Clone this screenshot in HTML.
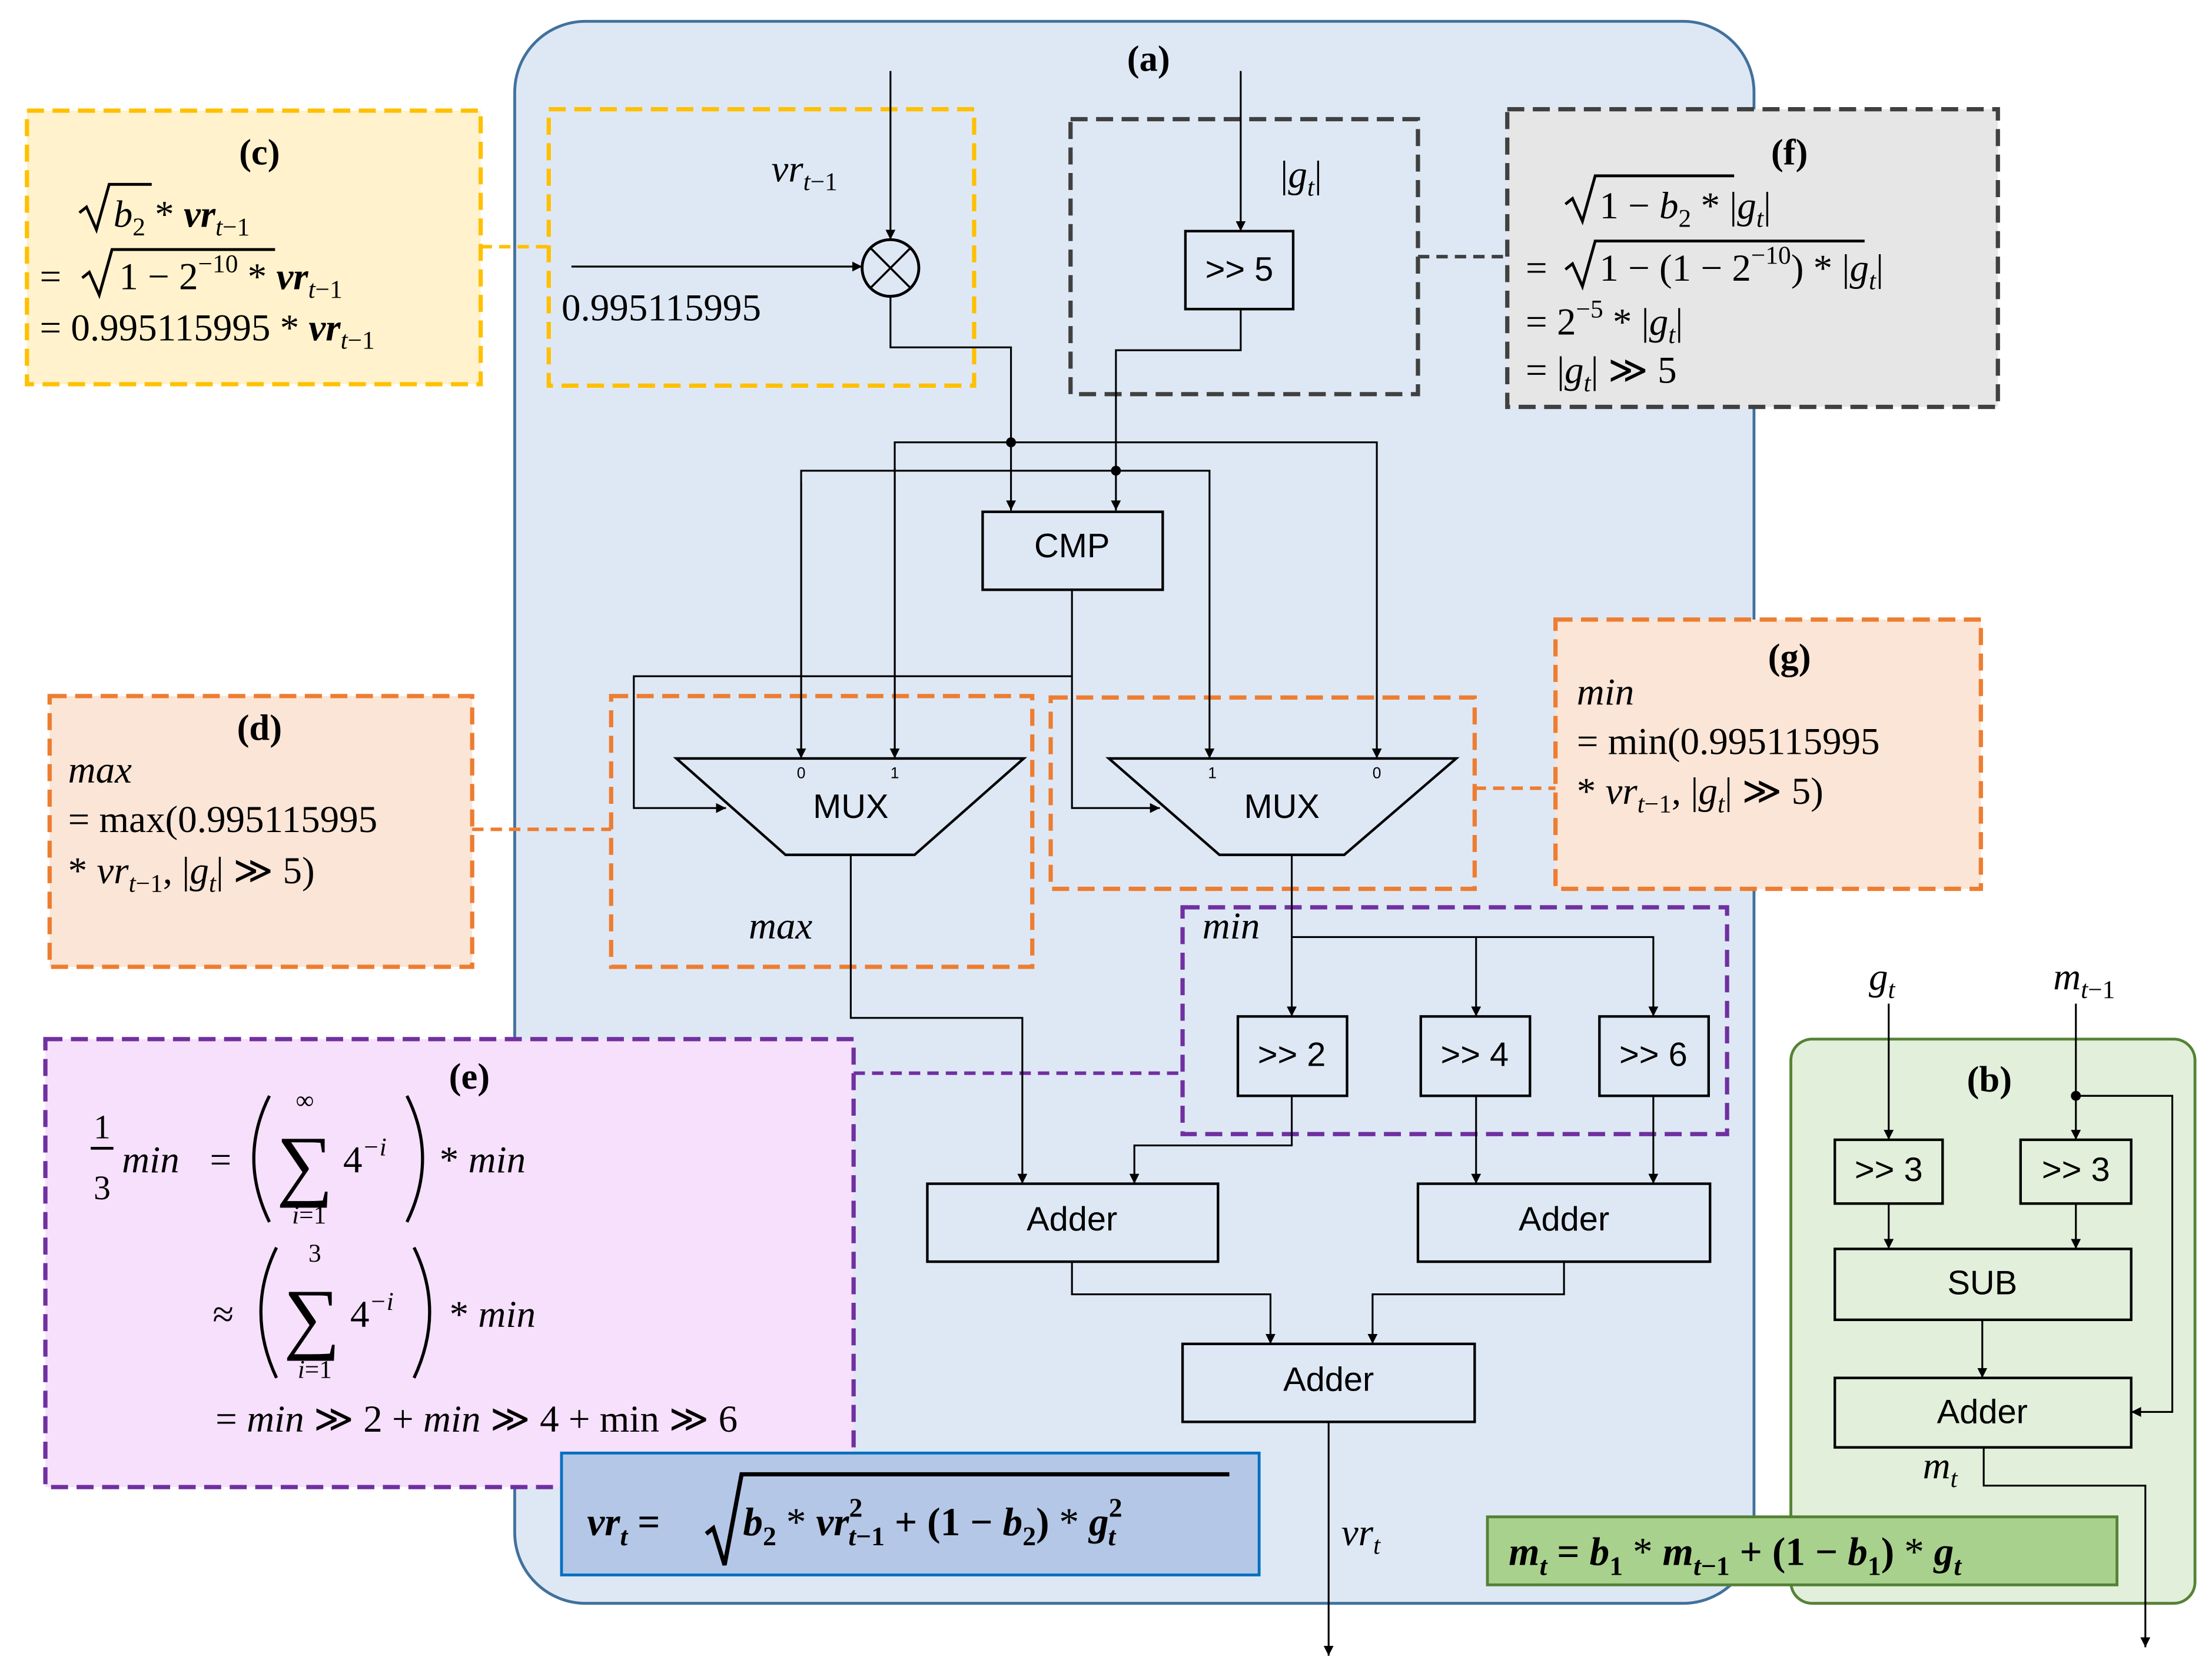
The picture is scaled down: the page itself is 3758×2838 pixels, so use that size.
<!DOCTYPE html>
<html><head><meta charset="utf-8"><style>
html,body{margin:0;padding:0;background:#fff}
svg{display:block;font-size:27px}
.s{font-family:"Liberation Sans",sans-serif}
.m{font-family:"Liberation Serif",serif}
.i{font-style:italic}
.b{font-weight:bold}
</style></head><body>
<svg width="3758" height="2838" viewBox="0 0 1560 1178" xmlns="http://www.w3.org/2000/svg">
<defs>
<marker id="a" viewBox="0 0 10 10" refX="10" refY="5" markerWidth="7" markerHeight="9" markerUnits="userSpaceOnUse" orient="auto"><path d="M0,0 L10,5 L0,10 z" fill="#000"/></marker>
</defs>
<rect width="1560" height="1178" fill="#fff"/>
<!-- main (a) -->
<rect x="363" y="15" width="874" height="1116" rx="50" fill="#dee8f5" stroke="#41719c" stroke-width="2"/>
<text x="810" y="50" text-anchor="middle" class="m b" font-size="26">(a)</text>
<!-- (b) -->
<rect x="1263" y="733" width="285" height="398" rx="15" fill="#e2efda" stroke="#548235" stroke-width="2"/>
<text x="1403" y="770" text-anchor="middle" class="m b" font-size="26">(b)</text>

<!-- (c) -->
<rect x="19" y="78" width="320" height="193" fill="#fff2cc" stroke="#ffc000" stroke-width="3" stroke-dasharray="12,6"/>
<rect x="387" y="77" width="300" height="195" fill="none" stroke="#ffc000" stroke-width="3" stroke-dasharray="12,6"/>
<line x1="339" y1="174" x2="387" y2="174" stroke="#ffc000" stroke-width="2.5" stroke-dasharray="8,5"/>
<text x="183" y="116" text-anchor="middle" class="m b" font-size="26">(c)</text>
<path d="M56,150 l5,-4 l7,16 l9,-32 h30" fill="none" stroke="#000" stroke-width="2"/>
<text x="80" y="160" class="m"><tspan class="i">b</tspan><tspan font-size="18" dy="6">2</tspan><tspan dy="-6"> * </tspan><tspan class="i b">vr</tspan><tspan font-size="18" dy="6" class="i">t</tspan><tspan font-size="18">−1</tspan></text>
<text x="28" y="204" class="m">=</text>
<path d="M58,196 l5,-4 l7,16 l9,-32 h115" fill="none" stroke="#000" stroke-width="2"/>
<text x="84" y="204" class="m">1 − 2<tspan font-size="18" dy="-12">−10</tspan><tspan dy="12"> * </tspan><tspan class="i b">vr</tspan><tspan font-size="18" dy="6" class="i">t</tspan><tspan font-size="18">−1</tspan></text>
<text x="28" y="240" class="m">= 0.995115995  * <tspan class="i b">vr</tspan><tspan font-size="18" dy="6" class="i">t</tspan><tspan font-size="18">−1</tspan></text>

<!-- (f) -->
<rect x="1063" y="77" width="346" height="210" fill="#e7e6e6" stroke="#404040" stroke-width="3" stroke-dasharray="12,6"/>
<rect x="755" y="84" width="245" height="194" fill="none" stroke="#404040" stroke-width="3" stroke-dasharray="12,6"/>
<line x1="1000" y1="181" x2="1063" y2="181" stroke="#404040" stroke-width="2.5" stroke-dasharray="8,5"/>
<text x="1262" y="116" text-anchor="middle" class="m b" font-size="26">(f)</text>
<path d="M1104,144 l5,-4 l7,16 l9,-32 h98" fill="none" stroke="#000" stroke-width="2"/>
<text x="1128" y="154" class="m">1 − <tspan class="i">b</tspan><tspan font-size="18" dy="6">2</tspan><tspan dy="-6"> * |</tspan><tspan class="i">g</tspan><tspan font-size="18" dy="6" class="i">t</tspan><tspan dy="-6">|</tspan></text>
<text x="1076" y="198" class="m">=</text>
<path d="M1104,190 l5,-4 l7,16 l9,-32 h190" fill="none" stroke="#000" stroke-width="2"/>
<text x="1128" y="198" class="m">1 − (1 − 2<tspan font-size="18" dy="-12">−10</tspan><tspan dy="12">) * |</tspan><tspan class="i">g</tspan><tspan font-size="18" dy="6" class="i">t</tspan><tspan dy="-6">|</tspan></text>
<text x="1076" y="236" class="m">= 2<tspan font-size="18" dy="-12">−5</tspan><tspan dy="12"> * |</tspan><tspan class="i">g</tspan><tspan font-size="18" dy="6" class="i">t</tspan><tspan dy="-6">|</tspan></text>
<text x="1076" y="270" class="m">= |<tspan class="i">g</tspan><tspan font-size="18" dy="6" class="i">t</tspan><tspan dy="-6">| ≫ 5</tspan></text>

<!-- (d) -->
<rect x="35" y="491" width="298" height="191" fill="#fbe5d6" stroke="#ed7d31" stroke-width="3" stroke-dasharray="12,6"/>
<rect x="431" y="491" width="297" height="191" fill="none" stroke="#ed7d31" stroke-width="3" stroke-dasharray="12,6"/>
<line x1="333" y1="585" x2="431" y2="585" stroke="#ed7d31" stroke-width="2.5" stroke-dasharray="8,5"/>
<text x="183" y="522" text-anchor="middle" class="m b" font-size="26">(d)</text>
<text x="48" y="552" class="m i">max</text>
<text x="48" y="587" class="m">= max(0.995115995</text>
<text x="48" y="623" class="m">* <tspan class="i">vr</tspan><tspan font-size="18" dy="6" class="i">t</tspan><tspan font-size="18">−1</tspan><tspan dy="-6">, |</tspan><tspan class="i">g</tspan><tspan font-size="18" dy="6" class="i">t</tspan><tspan dy="-6">| ≫ 5)</tspan></text>

<!-- (g) -->
<rect x="1097" y="437" width="300" height="190" fill="#fbe5d6" stroke="#ed7d31" stroke-width="3" stroke-dasharray="12,6"/>
<rect x="741" y="492" width="299" height="135" fill="none" stroke="#ed7d31" stroke-width="3" stroke-dasharray="12,6"/>
<line x1="1040" y1="556" x2="1097" y2="556" stroke="#ed7d31" stroke-width="2.5" stroke-dasharray="8,5"/>
<text x="1262" y="472" text-anchor="middle" class="m b" font-size="26">(g)</text>
<text x="1112" y="497" class="m i">min</text>
<text x="1112" y="532" class="m">= min(0.995115995</text>
<text x="1112" y="567" class="m">* <tspan class="i">vr</tspan><tspan font-size="18" dy="6" class="i">t</tspan><tspan font-size="18">−1</tspan><tspan dy="-6">, |</tspan><tspan class="i">g</tspan><tspan font-size="18" dy="6" class="i">t</tspan><tspan dy="-6">| ≫ 5)</tspan></text>

<!-- (e) -->
<rect x="32" y="733" width="570" height="316" fill="#f6e0fb" stroke="#7030a0" stroke-width="3" stroke-dasharray="12,6"/>
<rect x="834" y="640" width="384" height="160" fill="none" stroke="#7030a0" stroke-width="3" stroke-dasharray="12,6"/>
<line x1="602" y1="757" x2="834" y2="757" stroke="#7030a0" stroke-width="2.5" stroke-dasharray="8,5"/>
<text x="331" y="768" text-anchor="middle" class="m b" font-size="26">(e)</text>
<text x="72" y="803" text-anchor="middle" class="m" font-size="24">1</text>
<line x1="64" y1="810" x2="80" y2="810" stroke="#000" stroke-width="2"/>
<text x="72" y="846" text-anchor="middle" class="m" font-size="24">3</text>
<text x="86" y="827" class="m i">min</text><text x="148" y="827" class="m">=</text>
<path d="M190,773 Q168,817 190,862" fill="none" stroke="#000" stroke-width="2.2"/>
<text x="195" y="840" class="m" font-size="56">∑</text>
<text x="215" y="782" text-anchor="middle" class="m" font-size="18">∞</text>
<text x="218" y="863" text-anchor="middle" class="m" font-size="18"><tspan class="i">i</tspan>=1</text>
<text x="242" y="827" class="m">4<tspan font-size="18" dy="-12" class="i">−i</tspan></text>
<path d="M287,773 Q309,817 287,862" fill="none" stroke="#000" stroke-width="2.2"/>
<text x="310" y="827" class="m">* <tspan class="i">min</tspan></text>
<text x="150" y="936" class="m">≈</text>
<path d="M195,880 Q173,925 195,972" fill="none" stroke="#000" stroke-width="2.2"/>
<text x="200" y="948" class="m" font-size="56">∑</text>
<text x="222" y="890" text-anchor="middle" class="m" font-size="18">3</text>
<text x="222" y="972" text-anchor="middle" class="m" font-size="18"><tspan class="i">i</tspan>=1</text>
<text x="247" y="936" class="m">4<tspan font-size="18" dy="-12" class="i">−i</tspan></text>
<path d="M292,880 Q314,925 292,972" fill="none" stroke="#000" stroke-width="2.2"/>
<text x="317" y="936" class="m">* <tspan class="i">min</tspan></text>
<text x="152" y="1010" class="m">= <tspan class="i">min</tspan> ≫ 2 + <tspan class="i">min</tspan> ≫ 4 + min ≫ 6</text>

<!-- vr formula -->
<rect x="396" y="1025" width="492" height="86" fill="#b4c7e7" stroke="#0070c0" stroke-width="2"/>
<path d="M498,1082 l5,-4 l8,26 l12,-64 h344" fill="none" stroke="#000" stroke-width="3"/>
<text x="414" y="1083" class="m i b" font-size="28">vr<tspan font-size="19" dy="7">t</tspan><tspan dy="-7" font-style="normal"> = </tspan></text>
<text x="524" y="1083" class="m b" font-size="28"><tspan class="i">b</tspan><tspan font-size="19" dy="7">2</tspan><tspan dy="-7" font-weight="normal"> * </tspan><tspan class="i">vr</tspan><tspan font-size="19" dy="-13">2</tspan><tspan font-size="19" dx="-10" dy="20" class="i">t</tspan><tspan font-size="19">−1</tspan><tspan dy="-7"> + (1 − </tspan><tspan class="i">b</tspan><tspan font-size="19" dy="7">2</tspan><tspan dy="-7">) </tspan><tspan font-weight="normal">* </tspan><tspan class="i">g</tspan><tspan font-size="19" dy="-13">2</tspan><tspan font-size="19" dx="-10" dy="20" class="i">t</tspan></text>

<!-- m formula -->
<rect x="1049" y="1070" width="444" height="48" fill="#a9d18e" stroke="#548235" stroke-width="2"/>
<text x="1064" y="1104" class="m b" font-size="28"><tspan class="i">m</tspan><tspan font-size="19" dy="7" class="i">t</tspan><tspan dy="-7"> = </tspan><tspan class="i">b</tspan><tspan font-size="19" dy="7">1</tspan><tspan dy="-7" font-weight="normal"> * </tspan><tspan class="i">m</tspan><tspan font-size="19" dy="7" class="i">t</tspan><tspan font-size="19">−1</tspan><tspan dy="-7"> + (1 − </tspan><tspan class="i">b</tspan><tspan font-size="19" dy="7">1</tspan><tspan dy="-7">) </tspan><tspan font-weight="normal">* </tspan><tspan class="i">g</tspan><tspan font-size="19" dy="7" class="i">t</tspan></text>

<!-- circuit wires -->
<g fill="none" stroke="#000" stroke-width="1.3">
<line x1="628" y1="50" x2="628" y2="169" marker-end="url(#a)"/>
<line x1="403" y1="188" x2="608" y2="188" marker-end="url(#a)"/>
<polyline points="628,209 628,245 713,245 713,360" marker-end="url(#a)"/>
<line x1="875" y1="50" x2="875" y2="163" marker-end="url(#a)"/>
<polyline points="875,218 875,247 787,247 787,360" marker-end="url(#a)"/>
<polyline points="631,535 631,312 971,312 971,535" marker-end="url(#a)"/>
<line x1="631" y1="330" x2="631" y2="535" marker-end="url(#a)"/>
<polyline points="565,535 565,332 853,332 853,535" marker-end="url(#a)"/>
<line x1="565" y1="340" x2="565" y2="535" marker-end="url(#a)"/>
<polyline points="756,416 756,570 818,570" marker-end="url(#a)"/>
<polyline points="756,477 447,477 447,570 512,570" marker-end="url(#a)"/>
<polyline points="600,603 600,718 721,718 721,835" marker-end="url(#a)"/>
<line x1="911" y1="603" x2="911" y2="717" marker-end="url(#a)"/>
<polyline points="911,661 1166,661 1166,717" marker-end="url(#a)"/>
<line x1="1041" y1="661" x2="1041" y2="717" marker-end="url(#a)"/>
<polyline points="911,773 911,808 800,808 800,835" marker-end="url(#a)"/>
<line x1="1041" y1="773" x2="1041" y2="835" marker-end="url(#a)"/>
<line x1="1166" y1="773" x2="1166" y2="835" marker-end="url(#a)"/>
<polyline points="756,890 756,913 896,913 896,948" marker-end="url(#a)"/>
<polyline points="1103,890 1103,913 968,913 968,948" marker-end="url(#a)"/>
<line x1="937" y1="1003" x2="937" y2="1168" marker-end="url(#a)"/>
<line x1="1332" y1="708" x2="1332" y2="804" marker-end="url(#a)"/>
<line x1="1464" y1="708" x2="1464" y2="804" marker-end="url(#a)"/>
<polyline points="1464,773 1532,773 1532,996 1503,996" marker-end="url(#a)"/>
<line x1="1332" y1="849" x2="1332" y2="881" marker-end="url(#a)"/>
<line x1="1464" y1="849" x2="1464" y2="881" marker-end="url(#a)"/>
<line x1="1398" y1="931" x2="1398" y2="972" marker-end="url(#a)"/>
<polyline points="1399,1021 1399,1048 1513,1048 1513,1162" marker-end="url(#a)"/>
</g>
<circle cx="713" cy="312" r="3.5"/><circle cx="787" cy="332" r="3.5"/><circle cx="1464" cy="773" r="3.5"/>
<circle cx="628" cy="189" r="20" fill="none" stroke="#000" stroke-width="2"/>
<path d="M614,175 L642,203 M642,175 L614,203" stroke="#000" stroke-width="1.5"/>
<g fill="none" stroke="#000" stroke-width="1.8">
<rect x="836" y="163" width="76" height="55"/>
<rect x="693" y="361" width="127" height="55"/>
<polygon points="477,535 722,535 645,603 554,603"/>
<polygon points="782,535 1027,535 948,603 860,603"/>
<rect x="873" y="717" width="77" height="56"/>
<rect x="1002" y="717" width="77" height="56"/>
<rect x="1128" y="717" width="77" height="56"/>
<rect x="654" y="835" width="205" height="55"/>
<rect x="1000" y="835" width="206" height="55"/>
<rect x="834" y="948" width="206" height="55"/>
<rect x="1294" y="804" width="76" height="45"/>
<rect x="1425" y="804" width="78" height="45"/>
<rect x="1294" y="881" width="209" height="50"/>
<rect x="1294" y="972" width="209" height="49"/>
</g>
<g class="s" text-anchor="middle" font-size="24">
<text x="874" y="198">&gt;&gt; 5</text>
<text x="756" y="393">CMP</text>
<text x="600" y="577">MUX</text>
<text x="904" y="577">MUX</text>
<text x="911" y="752">&gt;&gt; 2</text>
<text x="1040" y="752">&gt;&gt; 4</text>
<text x="1166" y="752">&gt;&gt; 6</text>
<text x="756" y="868">Adder</text>
<text x="1103" y="868">Adder</text>
<text x="937" y="981">Adder</text>
<text x="1332" y="833">&gt;&gt; 3</text>
<text x="1464" y="833">&gt;&gt; 3</text>
<text x="1398" y="913">SUB</text>
<text x="1398" y="1004">Adder</text>
<text x="565" y="549" font-size="11">0</text><text x="631" y="549" font-size="11">1</text>
<text x="855" y="549" font-size="11">1</text><text x="971" y="549" font-size="11">0</text>
</g>
<text x="396" y="226" class="m">0.995115995</text>
<text x="544" y="128" class="m i">vr<tspan font-size="18" dy="6">t</tspan><tspan font-size="18" font-style="normal">−1</tspan></text>
<text x="903" y="132" class="m">|<tspan class="i">g</tspan><tspan font-size="18" dy="6" class="i">t</tspan><tspan dy="-6">|</tspan></text>
<text x="528" y="662" class="m i">max</text>
<text x="848" y="662" class="m i">min</text>
<text x="946" y="1090" class="m i">vr<tspan font-size="18" dy="6">t</tspan></text>
<text x="1318" y="698" class="m i">g<tspan font-size="18" dy="6">t</tspan></text>
<text x="1448" y="698" class="m i">m<tspan font-size="18" dy="6">t</tspan><tspan font-size="18" font-style="normal">−1</tspan></text>
<text x="1356" y="1043" class="m i">m<tspan font-size="18" dy="6">t</tspan></text>
</svg>
</body></html>
